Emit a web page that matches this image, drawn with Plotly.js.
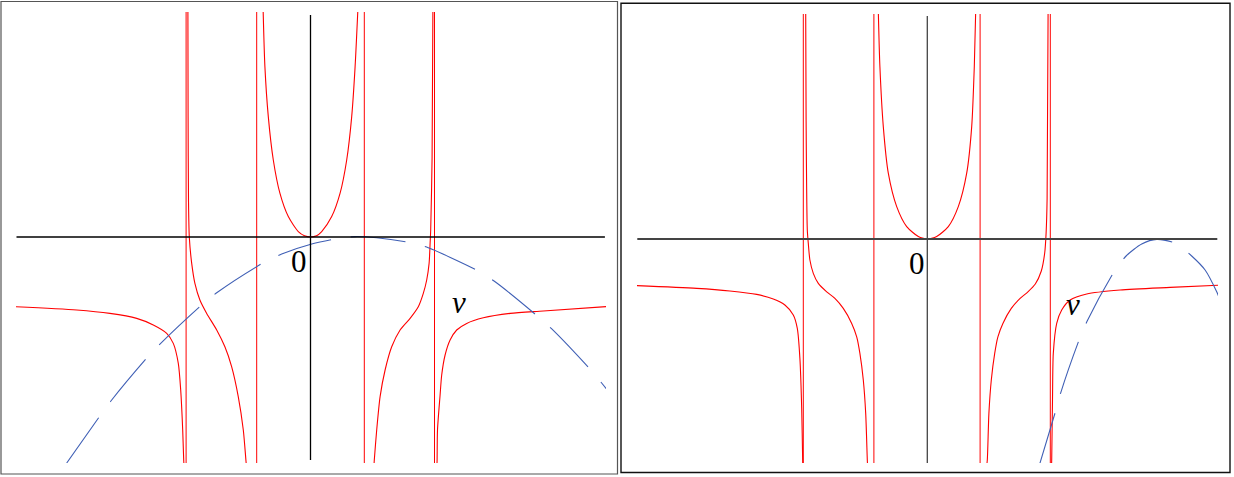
<!DOCTYPE html>
<html>
<head>
<meta charset="utf-8">
<script src="https://cdn.plot.ly/plotly-3.0.1.min.js"></script>
<style>
  html, body { margin: 0; padding: 0; background: #fff; }
  #plot { width: 1234px; height: 477px; }
</style>
</head>
<body>
<div id="plot"></div>
<script>
// ---- left panel (units: 1 = 20px, origin at axis crossing) ----
const leftAsymptotes = [-6.22, -2.69, 2.69, 6.2];

const leftOuterLx = [-14.75, -11.69, -10.03, -8.69, -7.86, -7.19, -6.86, -6.61, -6.49, -6.39, -6.34, -6.32];
const leftOuterLy = [-3.49, -3.65, -3.82, -4.07, -4.4, -4.82, -5.32, -6.32, -7.65, -9.65, -11.15, -11.5];

const leftInnerLx = [-6.13, -6.12, -6.1, -6.06, -5.94, -5.78, -5.53, -5.19, -4.69, -4.28, -3.94, -3.61, -3.36, -3.23, -3.2];
const leftInnerLy = [11.4, 6, 1.85, 0, -1.32, -2.32, -3.15, -3.82, -4.65, -5.49, -6.49, -7.99, -9.65, -11.15, -11.5];

const leftUx = [-2.37, -2.28, -2.11, -1.86, -1.53, -1.11, -0.61, -0.3, 0, 0.3, 0.56, 1.06, 1.48, 1.81, 2.06, 2.23, 2.37];
const leftUy = [11.4, 8.52, 6.02, 3.85, 2.19, 1.02, 0.27, 0.06, 0, 0.06, 0.27, 1.02, 2.19, 3.85, 6.02, 8.52, 11.4];

const leftInnerRx = [3.17, 3.19, 3.31, 3.48, 3.73, 4.06, 4.48, 4.98, 5.39, 5.64, 5.81, 5.93, 5.98, 6.01, 6.08, 6.12];
const leftInnerRy = [-11.5, -11.15, -9.65, -7.98, -6.65, -5.49, -4.65, -4.07, -3.49, -2.82, -2.15, -1.32, -0.32, 0.35, 4, 11.4];

const leftOuterRx = [6.32, 6.33, 6.35, 6.48, 6.56, 6.73, 6.98, 7.31, 7.81, 8.64, 9.98, 11.64, 14.8];
const leftOuterRy = [-11.5, -11.15, -9.65, -7.9, -6.9, -5.9, -5.15, -4.65, -4.32, -4.04, -3.82, -3.7, -3.48];

const leftVx = [-12.19, -10.56, -9.98, -8.16, -7.49, -5.44, -4.69, -2.33, -1.44, 0.06, 1.23, 2.23, 3.31, 4.94, 5.89, 8.39, 9.23, 11.39, 12.14, 14.06, 14.8];
const leftVy = [-11.3, -8.99, -8.2, -6.02, -5.32, -3.4, -2.79, -1.27, -0.85, -0.35, -0.1, 0.02, -0.04, -0.27, -0.54, -1.7, -2.24, -3.99, -4.67, -6.7, -7.6];

// ---- right panel ----
const rightAsymptotes = [-6.2, -2.67, 2.64, 6.15];

const rightOuterLx = [-14.55, -11.53, -9.87, -8.53, -7.7, -7.12, -6.7, -6.5, -6.37, -6.28, -6.23, -6.22];
const rightOuterLy = [-2.33, -2.47, -2.6, -2.77, -3.0, -3.3, -3.8, -4.47, -5.97, -8.47, -11.14, -11.5];

const rightInnerLx = [-6.08, -6.06, -6.0, -5.95, -5.87, -5.7, -5.45, -5.03, -4.62, -4.2, -3.78, -3.53, -3.37, -3.2, -3.08, -3.0, -2.98];
const rightInnerLy = [11.4, 6, 0.45, -0.22, -1.05, -1.72, -2.22, -2.64, -2.97, -3.47, -4.22, -4.89, -5.72, -7.05, -8.72, -11.05, -11.5];

const rightUx = [-2.45, -2.37, -2.2, -1.95, -1.53, -1.03, -0.45, -0.2, 0, 0.22, 0.47, 1.05, 1.55, 1.97, 2.22, 2.35, 2.42];
const rightUy = [11.4, 8.62, 5.62, 3.29, 1.62, 0.62, 0.12, 0.03, 0, 0.03, 0.12, 0.62, 1.62, 3.29, 5.62, 8.62, 11.4];

const rightInnerRx = [2.95, 3.0, 3.08, 3.2, 3.37, 3.53, 3.78, 4.2, 4.64, 5.03, 5.4, 5.7, 5.87, 5.94, 5.99, 6.04];
const rightInnerRy = [-11.5, -11.05, -8.72, -7.05, -5.72, -4.89, -4.22, -3.47, -2.97, -2.64, -2.25, -1.6, -0.7, 0.29, 2, 11.4];

const rightOuterRx = [6.21, 6.22, 6.26, 6.3, 6.47, 6.72, 7.14, 7.97, 9.64, 12.14, 14.6];
const rightOuterRy = [-11.5, -11.05, -8.05, -5.72, -4.22, -3.55, -3.05, -2.75, -2.55, -2.42, -2.31];

const rightVx = [5.59, 6.39, 6.67, 7.6, 8.0, 9.34, 9.94, 10.72, 11.47, 12.44, 13.22, 13.89, 14.47, 14.7];
const rightVy = [-11.35, -8.69, -7.69, -5.02, -4.09, -1.64, -0.85, -0.25, -0.02, -0.22, -0.85, -1.55, -2.64, -3.2];

// label positions
const zeroLabelLeft = [-0.57, -1.22];
const vLabelLeft = [7.41, -3.25];
const zeroLabelRight = [-0.53, -1.22];
const vLabelRight = [7.3, -3.28];

const W = 1234, H = 477;
const RED = "#ff0000";
const BLUE = "#3f5fb5";

function curve(x, y, color, xa, ya, dash) {
  return {
    x: x, y: y, xaxis: xa, yaxis: ya,
    type: "scatter", mode: "lines",
    line: { color: color, width: 1.1, shape: "spline", smoothing: 0.7, dash: dash || "solid" },
    hoverinfo: "skip", showlegend: false,
  };
}

const data = [
  curve(leftOuterLx, leftOuterLy, RED, "x", "y"),
  curve(leftInnerLx, leftInnerLy, RED, "x", "y"),
  curve(leftUx, leftUy, RED, "x", "y"),
  curve(leftInnerRx, leftInnerRy, RED, "x", "y"),
  curve(leftOuterRx, leftOuterRy, RED, "x", "y"),
  curve(leftVx, leftVy, BLUE, "x", "y", "55px,20px"),
  curve(rightOuterLx, rightOuterLy, RED, "x2", "y2"),
  curve(rightInnerLx, rightInnerLy, RED, "x2", "y2"),
  curve(rightUx, rightUy, RED, "x2", "y2"),
  curve(rightInnerRx, rightInnerRy, RED, "x2", "y2"),
  curve(rightOuterRx, rightOuterRy, RED, "x2", "y2"),
  curve(rightVx, rightVy, BLUE, "x2", "y2", "55px,20px"),
];

const shapes = [];
// asymptotes
leftAsymptotes.forEach(a => shapes.push({
  type: "line", xref: "x", yref: "y", x0: a, x1: a, y0: -11.5, y1: 11.5,
  line: { color: RED, width: 1 }, layer: "below",
}));
rightAsymptotes.forEach(a => shapes.push({
  type: "line", xref: "x2", yref: "y2", x0: a, x1: a, y0: -11.5, y1: 11.5,
  line: { color: RED, width: 1 }, layer: "below",
}));
// coordinate axes
shapes.push(
  { type: "line", xref: "x", yref: "y", x0: -14.7, x1: 14.72, y0: 0, y1: 0, line: { color: "#000", width: 1.3 } },
  { type: "line", xref: "x", yref: "y", x0: 0, x1: 0, y0: -11.15, y1: 11.1, line: { color: "#000", width: 1.3 } },
  { type: "line", xref: "x2", yref: "y2", x0: -14.5, x1: 14.5, y0: 0, y1: 0, line: { color: "#444", width: 1.8 } },
  { type: "line", xref: "x2", yref: "y2", x0: 0, x1: 0, y0: -11.2, y1: 11.15, line: { color: "#444", width: 1.3 } }
);
// panel frames
shapes.push(
  { type: "rect", xref: "paper", yref: "paper", x0: 1 / W, x1: 617.5 / W, y0: 1 - 474 / H, y1: 1 - 1.5 / H,
    line: { color: "#555", width: 1.2 } },
  { type: "rect", xref: "paper", yref: "paper", x0: 621 / W, x1: 1230 / W, y0: 1 - 472.5 / H, y1: 1 - 3.3 / H,
    line: { color: "#111", width: 1.4 } }
);

function label(text, pos, xa, ya) {
  return {
    text: text, x: pos[0], y: pos[1], xref: xa, yref: ya, showarrow: false,
    font: { family: "Liberation Serif", size: 31, color: "#000" },
    xanchor: "center", yanchor: "middle",
  };
}

const layout = {
  width: W, height: H,
  margin: { l: 0, r: 0, t: 0, b: 0 },
  paper_bgcolor: "#fff", plot_bgcolor: "rgba(0,0,0,0)",
  showlegend: false,
  xaxis: { domain: [16 / W, 606 / W], range: [-14.725, 14.775], visible: false, fixedrange: true },
  yaxis: { domain: [1 - 463 / H, 1 - 12 / H], range: [-11.3, 11.25], visible: false, fixedrange: true },
  xaxis2: { domain: [637 / W, 1218 / W], range: [-14.515, 14.535], anchor: "y2", visible: false, fixedrange: true },
  yaxis2: { domain: [1 - 463 / H, 1 - 14 / H], range: [-11.2, 11.25], anchor: "x2", visible: false, fixedrange: true },
  shapes: shapes,
  annotations: [
    label("0", zeroLabelLeft, "x", "y"),
    label("<i>v</i>", vLabelLeft, "x", "y"),
    label("0", zeroLabelRight, "x2", "y2"),
    label("<i>v</i>", vLabelRight, "x2", "y2"),
  ],
};

Plotly.newPlot("plot", data, layout, { staticPlot: true, displayModeBar: false });
</script>
</body>
</html>
